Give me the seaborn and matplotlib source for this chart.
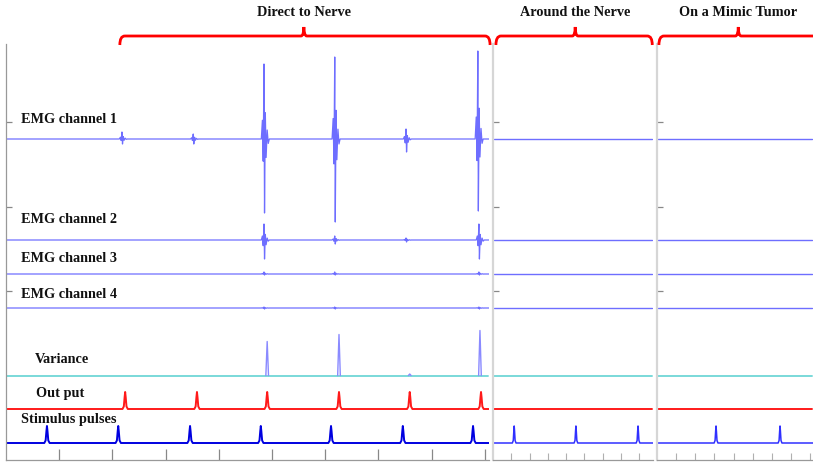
import matplotlib.pyplot as plt
import seaborn as sns
import pandas as pd
from matplotlib.path import Path
from matplotlib.patches import PathPatch

# ---- data (time in s, amplitudes in plot units) ----
panel_names = ['Direct to Nerve', 'Around the Nerve', 'On a Mimic Tumor']
panel_span = [9.08, 4.38, 4.07]

emg1_times = [2.18, 3.52, 4.85, 6.18, 7.52, 8.87]
emg1_up = [7, 5, 75, 82, 10, 88]
emg1_down = [5, 5, 74, 83, 13, 72]

emg2_times = [4.85, 6.18, 7.52, 8.89]
emg2_up = [16, 4, 2, 16]
emg2_down = [19, 4, 2, 19]

emg3_times = [4.85, 6.18, 8.89]
emg3_up = [2, 2, 2]
emg3_down = [1, 1, 1]

emg4_times = [4.85, 6.18, 8.89]
emg4_up = [1, 1, 1]
emg4_down = [1, 1, 1]

variance_times = [4.91, 6.26, 7.59, 8.91]
variance_peaks = [34, 41, 1.5, 45]

output_times = [2.24, 3.59, 4.91, 6.26, 7.59, 8.93]
output_height = [17, 17, 17, 17, 17, 17]

stim_times = [[0.77, 2.11, 3.46, 4.79, 6.11, 7.46, 8.78],
              [0.58, 2.27, 3.97],
              [1.54, 3.21]]
stim_height = 17

channel_labels = ['EMG channel 1', 'EMG channel 2', 'EMG channel 3', 'EMG channel 4',
                  'Variance', 'Out put', 'Stimulus pulses']

# waveform templates (offset in s, normalised value)
spike_offsets = [-0.05, -0.03, -0.015, 0.0, 0.01, 0.025, 0.04, 0.06, 0.08, 0.1]
spike_shape = [0, 0.25, -0.3, 1.0, -1.0, 0.35, -0.25, 0.12, -0.06, 0]
pulse_offsets = [-0.05, -0.025, -0.01, 0.0, 0.01, 0.025, 0.05]
pulse_shape = [0, 0.15, 0.7, 1.0, 0.7, 0.15, 0]
peak_offsets = [-0.025, 0.0, 0.025]
peak_shape = [0, 1.0, 0]

# ---- layout ----
W, H = 813, 464
panel_px = [(6, 489), (493, 653), (657, 813)]
axis_bottom, axis_top = 461, 45
base = {'emg1': 321, 'emg2': 220, 'emg3': 186, 'emg4': 152, 'var': 84.5, 'out': 51, 'stim': 17}
label_pos = [(0.28, 338), (0.28, 238), (0.28, 199), (0.28, 163), (0.55, 98), (0.56, 64), (0.28, 38)]
ytick_pos = [338, 253, 169]

emg_color = '#6e6eff'
serif = ['Liberation Serif', 'DejaVu Serif']


def build_trace(times, ups, downs, offsets, shape, span):
    t, v = [0.0], [0.0]
    for tt, up, dn in zip(times, ups, downs):
        for o, s in zip(offsets, shape):
            t.append(tt + o)
            v.append(s * up if s > 0 else s * dn)
    t.append(span)
    v.append(0.0)
    return pd.DataFrame({'t': t, 'v': v})


def draw(ax, df, offset, color, lw):
    df = df.copy()
    df['v'] = df['v'] + offset
    sns.lineplot(data=df, x='t', y='v', ax=ax, color=color, linewidth=lw,
                 estimator=None, sort=False)


sns.set_style('white')
plt.rcParams['font.family'] = serif

fig = plt.figure(figsize=(W / 100, H / 100), dpi=100)
axes = []
for i, (x0, x1) in enumerate(panel_px):
    ax = fig.add_axes([x0 / W, (H - axis_bottom) / H, (x1 - x0) / W, (axis_bottom - axis_top) / H])
    span = panel_span[i]
    ax.set_xlim(0, span)
    ax.set_ylim(0, axis_bottom - axis_top)
    flat = pd.DataFrame({'t': [0.02 * (i > 0), span - 0.02], 'v': [0.0, 0.0]})

    if i == 0:
        draw(ax, build_trace(emg1_times, emg1_up, emg1_down, spike_offsets, spike_shape, span), base['emg1'], emg_color, 0.9)
        draw(ax, build_trace(emg2_times, emg2_up, emg2_down, spike_offsets, spike_shape, span), base['emg2'], emg_color, 0.9)
        draw(ax, build_trace(emg3_times, emg3_up, emg3_down, spike_offsets, spike_shape, span), base['emg3'], emg_color, 0.9)
        draw(ax, build_trace(emg4_times, emg4_up, emg4_down, spike_offsets, spike_shape, span), base['emg4'], emg_color, 0.9)
        draw(ax, flat, base['var'], '#7ad9d9', 1.4)
        for tt, hh in zip(variance_times, variance_peaks):
            pk = pd.DataFrame({'t': [tt + o for o in peak_offsets], 'v': [s * hh for s in peak_shape]})
            draw(ax, pk, base['var'], '#8a8aff', 1.0)
        draw(ax, build_trace(output_times, output_height, output_height, pulse_offsets, pulse_shape, span), base['out'], '#ff1a1a', 1.4)
        draw(ax, build_trace(stim_times[0], [stim_height] * 7, [0] * 7, pulse_offsets, pulse_shape, span), base['stim'], '#0000e0', 1.4)
    else:
        for key in ['emg1', 'emg2', 'emg3', 'emg4']:
            draw(ax, flat, base[key], emg_color, 1.0)
        draw(ax, flat, base['var'], '#7ad9d9', 1.4)
        draw(ax, flat, base['out'], '#ff1a1a', 1.4)
        n = len(stim_times[i])
        draw(ax, build_trace(stim_times[i], [stim_height] * n, [0] * n, pulse_offsets, pulse_shape, span), base['stim'], '#3030ff', 1.1)

    ax.set_xlabel('')
    ax.set_ylabel('')
    ax.patch.set_alpha(0)
    for s in ['top', 'right']:
        ax.spines[s].set_visible(False)
    ax.spines['bottom'].set_color('#999999')
    ax.spines['bottom'].set_linewidth(0.9)
    if i == 0:
        ax.spines['left'].set_color('#999999')
        ax.spines['left'].set_linewidth(0.9)
        ax.set_xticks(range(1, 10))
        ax.tick_params(axis='x', bottom=True, direction='in', length=8, width=0.9, color='#888888')
    else:
        ax.spines['left'].set_color('#d6d6d6')
        ax.spines['left'].set_linewidth(1.6)
        ax.set_xticks([0.5 * k for k in range(1, 9)])
        ax.tick_params(axis='x', bottom=True, direction='in', length=5, width=0.8, color='#b0b0b0')
    ax.set_yticks(ytick_pos)
    ax.tick_params(axis='y', left=True, direction='in', length=4, width=0.9, color='#888888')
    ax.tick_params(labelbottom=False, labelleft=False)
    axes.append(ax)

# channel labels
for (tx, ty), lab in zip(label_pos, channel_labels):
    axes[0].text(tx, ty, lab, fontsize=10.3, fontweight='bold', family=serif,
                 ha='left', va='baseline', color='#111111')

# braces with section titles
overlay = fig.add_axes([0, 0, 1, 1])
overlay.set_xlim(0, W)
overlay.set_ylim(H, 0)
overlay.axis('off')
overlay.patch.set_alpha(0)

brace_spans = [(0, 2.14, 9.1, 5.6), (1, 0.08, 4.36, 2.25), (2, 0.05, 4.6, 2.12)]
y_top, y_end, y_tip = 37, 46, 28
for (pi, t0, t1, tm), name in zip(brace_spans, panel_names):
    to_px = lambda t: axes[pi].transData.transform((t, 0))[0]
    x0, x1, xm = to_px(t0), to_px(t1), to_px(tm)
    verts = [(x0, y_end), (x0, y_top), (x0 + 5, y_top),
             (xm - 3, y_top), (xm, y_top), (xm, y_tip),
             (xm, y_top), (xm + 3, y_top),
             (x1 - 5, y_top), (x1, y_top), (x1, y_end)]
    codes = [Path.MOVETO, Path.CURVE3, Path.CURVE3,
             Path.LINETO, Path.CURVE3, Path.CURVE3,
             Path.CURVE3, Path.CURVE3,
             Path.LINETO, Path.CURVE3, Path.CURVE3]
    overlay.add_patch(PathPatch(Path(verts, codes), facecolor='none', edgecolor='#ff0000',
                                linewidth=2.0, clip_on=False))
    overlay.text(xm, 16, name, fontsize=10.3, fontweight='bold', family=serif,
                 ha='center', va='baseline', color='#111111')

fig.savefig('out.png', dpi=100)
